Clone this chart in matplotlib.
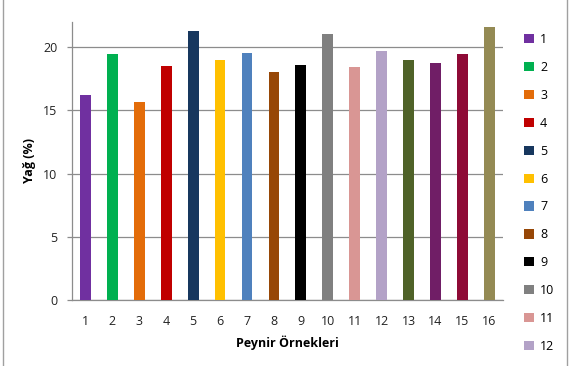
import matplotlib.pyplot as plt
from matplotlib.patches import Patch
from matplotlib.lines import Line2D

plt.rcParams['font.family'] = ['Open Sans', 'DejaVu Sans']

# Veri
ornekler = [str(i) for i in range(1, 17)]
yag      = [16.2, 19.45, 15.65, 18.5, 21.25, 19.0, 19.5, 18.05,
            18.6, 21.05, 18.45, 19.65, 19.0, 18.75, 19.45, 21.55]
renkler  = ["#7030A0", "#00B050", "#E36C09", "#C00000", "#17375E", "#FFC000",
            "#4F81BD", "#974706", "#000000", "#808080", "#D99694", "#B3A2C7",
            "#4F6228", "#701E66", "#8E0A36", "#948A54"]
n_lejant = 12   # resimde yalnızca ilk 12 kalem görünüyor

fig = plt.figure(figsize=(5.74, 3.66), dpi=100)
ax  = fig.add_axes([0.1254, 0.1803, 0.7506, 0.7604])

x = list(range(len(ornekler)))
ax.bar(x, yag, width=0.4, color=renkler, zorder=3)

ax.set_xlim(-0.5, len(ornekler) - 0.5)
ax.set_ylim(0, 22)
ax.set_yticks([0, 5, 10, 15, 20])
ax.set_xticks(x)
ax.set_xticklabels(ornekler)
ax.tick_params(axis="both", labelsize=9, labelcolor="#222222")
ax.tick_params(axis="x", length=0, pad=11)
ax.tick_params(axis="y", length=3.5, width=0.9, color="#8c8c8c", pad=7)
ax.grid(axis="y", color="#8c8c8c", linewidth=0.9, zorder=0)

for s in ["top", "right"]:
    ax.spines[s].set_visible(False)
for s in ["left", "bottom"]:
    ax.spines[s].set_color("#8c8c8c")
    ax.spines[s].set_linewidth(0.9)

ax.set_xlabel("Peynir Örnekleri", fontsize=9, fontweight="bold", labelpad=5)
ax.set_ylabel("Yağ (%)", fontsize=9, fontweight="bold", labelpad=5)

# Lejant
handles = [Patch(facecolor=c, edgecolor="none") for c in renkler]
fig.legend(handles[:n_lejant], ornekler[:n_lejant], loc="upper left",
           bbox_to_anchor=(0.905, 0.923), frameon=False, fontsize=9,
           handlelength=0.75, handleheight=0.75, handletextpad=0.5,
           labelspacing=1.19, borderaxespad=0)

# Grafik kenar çizgileri
for xc in [0.005, 0.988]:
    fig.add_artist(Line2D([xc, xc], [0, 1], transform=fig.transFigure,
                          color="#a0a0a0", linewidth=1))

fig.savefig("out.png", dpi=100)
